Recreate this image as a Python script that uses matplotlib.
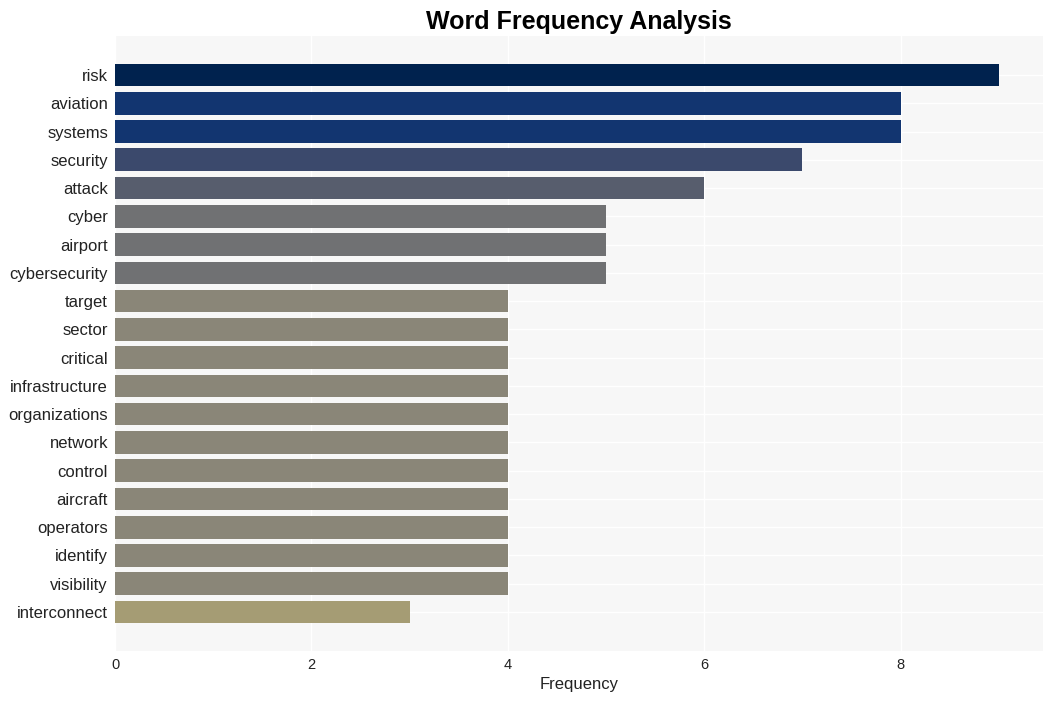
import numpy as np
import matplotlib.pyplot as plt

plt.rcParams['font.family'] = ['Liberation Sans', 'DejaVu Sans']

words = ["risk", "aviation", "systems", "security", "attack", "cyber", "airport",
         "cybersecurity", "target", "sector", "critical", "infrastructure",
         "organizations", "network", "control", "aircraft", "operators",
         "identify", "visibility", "interconnect"]
counts = [9, 8, 8, 7, 6, 5, 5, 5, 4, 4, 4, 4, 4, 4, 4, 4, 4, 4, 4, 3]

fig = plt.figure(figsize=(10.53, 7.01), dpi=100)
ax = fig.add_axes([115/1053, 1-651/701, (1043-115)/1053, (651-36)/701])
ax.set_facecolor("#f7f7f7")

cmap = plt.get_cmap("cividis_r")
vals = np.array(counts, dtype=float)
colors = [cmap(v/vals.max()) for v in vals]

y = np.arange(len(words))
ax.barh(y, vals, height=0.8, color=colors, zorder=2)

ax.set_yticks(y)
ax.set_yticklabels(words, fontsize=12, color="#222222")
ax.set_ylim(len(words)-1+1.38, -1.38)
ax.set_xlim(0, vals.max()*1.05)
ax.set_xticks([0, 2, 4, 6, 8])
ax.tick_params(axis="x", labelsize=10.5, colors="#222222", length=0, pad=5)
ax.tick_params(axis="y", length=0, pad=5)
ax.grid(True, color="white", linewidth=1, zorder=0)
ax.set_axisbelow(True)
for s in ax.spines.values():
    s.set_visible(False)

ax.set_xlabel("Frequency", fontsize=12, color="#222222", labelpad=4)
ax.set_title("Word Frequency Analysis", fontsize=18, fontweight="bold", pad=5)

fig.savefig("out.png", dpi=100)
